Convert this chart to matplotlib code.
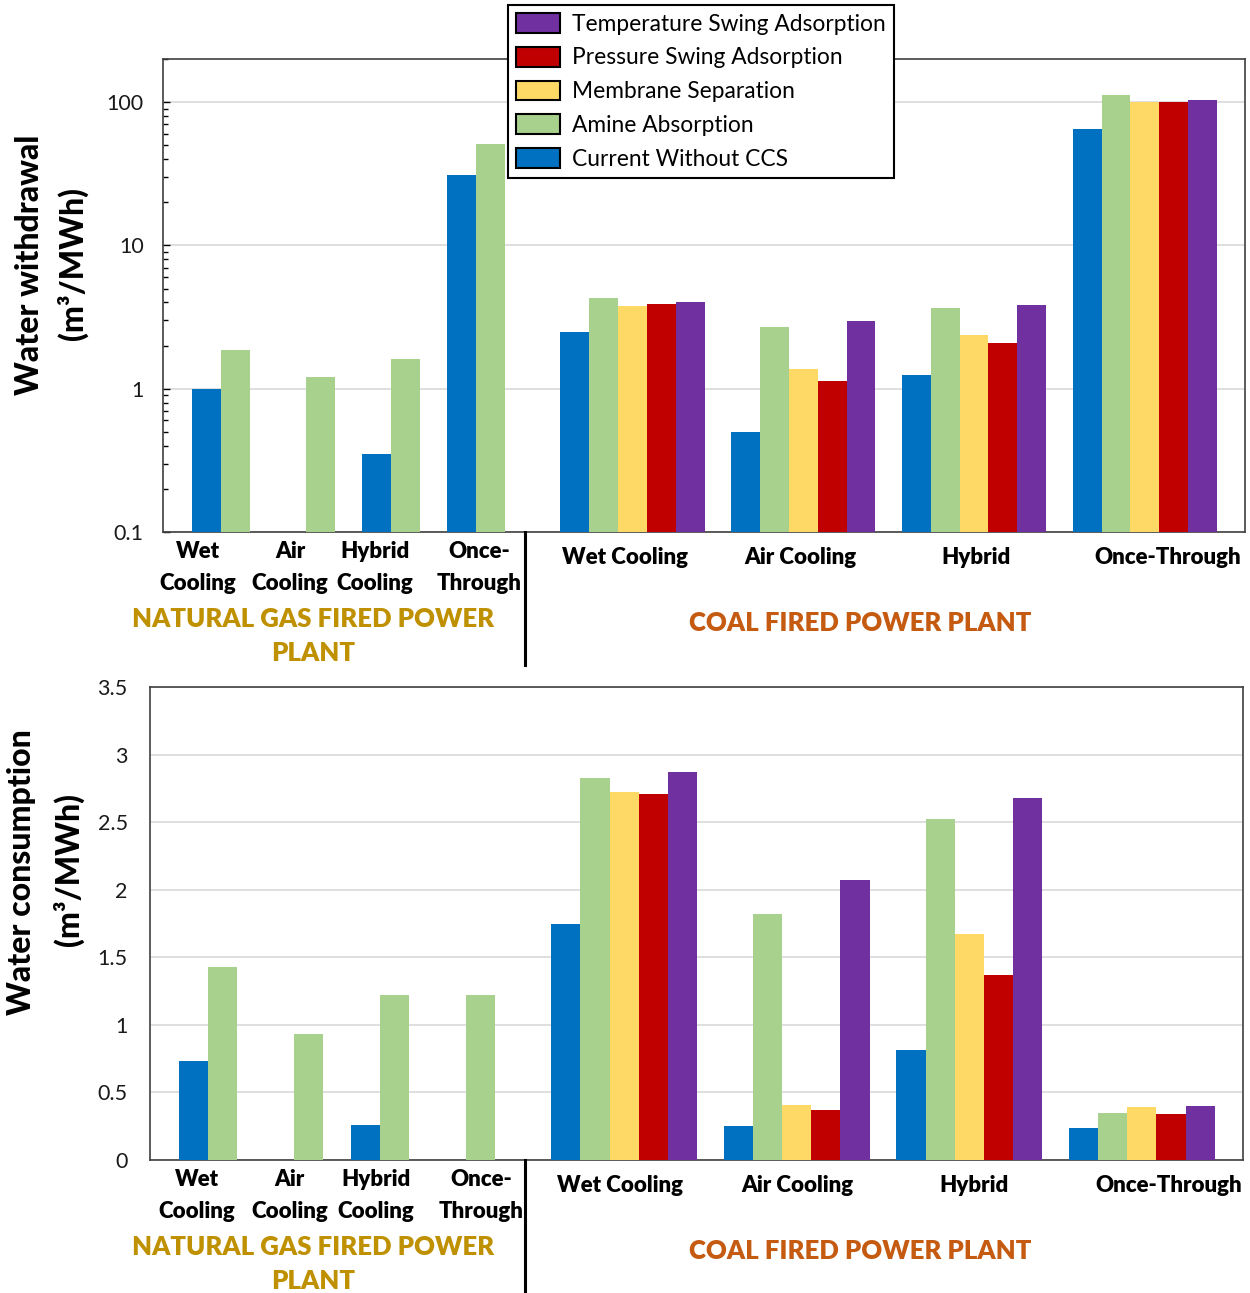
import numpy as np
import matplotlib
matplotlib.use('Agg')
import matplotlib.pyplot as plt
from matplotlib.patches import Patch
from matplotlib.lines import Line2D
from matplotlib.ticker import LogLocator, FixedLocator, NullFormatter, FixedFormatter
from matplotlib.transforms import blended_transform_factory

plt.rcParams['font.family'] = ['Lato', 'DejaVu Sans']

series = ['Current Without CCS', 'Amine Absorption', 'Membrane Separation',
          'Pressure Swing Adsorption', 'Temperature Swing Adsorption']
colors = ['#0070C0', '#A9D18E', '#FFD966', '#C00000', '#7030A0']

ng_labels = ['Wet\nCooling', 'Air\nCooling', 'Hybrid\nCooling', 'Once-\nThrough']
coal_labels = ['Wet Cooling', 'Air Cooling', 'Hybrid', 'Once-Through']

# water withdrawal (m3/MWh), log axis
ng_wd_current = [1.0, np.nan, 0.35, 31]
ng_wd_amine = [1.87, 1.21, 1.61, 51]
coal_wd_current = [2.48, 0.50, 1.25, 65]
coal_wd_amine = [4.29, 2.70, 3.65, 113]
coal_wd_membrane = [3.79, 1.38, 2.38, 100]
coal_wd_psa = [3.89, 1.13, 2.08, 100]
coal_wd_tsa = [4.06, 2.98, 3.81, 104]

# water consumption (m3/MWh)
ng_wc_current = [0.73, np.nan, 0.26, np.nan]
ng_wc_amine = [1.43, 0.93, 1.22, 1.22]
coal_wc_current = [1.75, 0.25, 0.815, 0.24]
coal_wc_amine = [2.83, 1.82, 2.52, 0.35]
coal_wc_membrane = [2.72, 0.41, 1.67, 0.39]
coal_wc_psa = [2.71, 0.37, 1.37, 0.34]
coal_wc_tsa = [2.87, 2.07, 2.68, 0.40]

# layout (bar width = 1 unit)
ng_start, ng_step = 2.0, 2.95
coal_start, coal_step = 16.27, 5.92
ng_label_nudge = [-0.8, -0.55, -0.55, 0.1]
coal_label_nudge = [-0.25, -0.1, 0.05, 0.8]

W, H = 1250, 1293
fig = plt.figure(figsize=(W / 100, H / 100), dpi=100)


def px_axes(left, top, right, bottom):
    return fig.add_axes([left / W, 1 - bottom / H, (right - left) / W, (bottom - top) / H])


def draw_panel(ax, ng_vals, coal_vals, ng_shift=0.0, coal_shift=0.0):
    ng_x = ng_start + ng_step * np.arange(4)
    coal_x = coal_start + coal_step * np.arange(4)
    for k, vals in enumerate(ng_vals):
        ax.bar(ng_x + (k - 0.5), vals, width=1, color=colors[k], edgecolor='none', zorder=3)
    for k, vals in enumerate(coal_vals):
        ax.bar(coal_x + (k - 2), vals, width=1, color=colors[k], edgecolor='none', zorder=3)
    ax.set_xlim(0, 37.5)
    ax.set_xticks([])
    ax.grid(axis='y', color='#d9d9d9', lw=1.2, zorder=0)
    ax.set_axisbelow(True)
    for s in ax.spines.values():
        s.set_color('#404040')
        s.set_linewidth(1.2)
    ax.tick_params(axis='y', labelsize=15.5, labelcolor='#1a1a1a')

    trans = blended_transform_factory(ax.transData, ax.transAxes)
    for i, lab in enumerate(ng_labels):
        top, bot = lab.split('\n')
        x = ng_x[i] + ng_label_nudge[i] + ng_shift
        ax.annotate(top, (x, 0), xycoords=trans, xytext=(0, -20 * 0.72),
                    textcoords='offset points', ha='center', va='center',
                    fontsize=16, fontweight='heavy', annotation_clip=False)
        ax.annotate(bot, (x, 0), xycoords=trans, xytext=(0, -51 * 0.72),
                    textcoords='offset points', ha='center', va='center',
                    fontsize=16, fontweight='heavy', annotation_clip=False)
    for i, lab in enumerate(coal_labels):
        x = coal_x[i] + coal_label_nudge[i] + coal_shift
        ax.annotate(lab, (x, 0), xycoords=trans, xytext=(0, -25 * 0.72),
                    textcoords='offset points', ha='center', va='center',
                    fontsize=16, fontweight='heavy', annotation_clip=False)


def section_labels(y_axes_bottom):
    kw = dict(ha='center', va='center', fontsize=18.5, fontweight='heavy')
    fig.text(313 / W, 1 - (y_axes_bottom + 87) / H, 'NATURAL GAS FIRED POWER',
             color='#BF9000', **kw)
    fig.text(313 / W, 1 - (y_axes_bottom + 121) / H, 'PLANT', color='#BF9000', **kw)
    fig.text(860 / W, 1 - (y_axes_bottom + 91) / H, 'COAL FIRED POWER PLANT',
             color='#C55A11', **kw)
    fig.add_artist(Line2D([525 / W, 525 / W],
                          [1 - y_axes_bottom / H, 1 - (y_axes_bottom + 133) / H],
                          transform=fig.transFigure, color='black', lw=2.2))


ylab_kw = dict(rotation=90, ha='center', va='center', fontsize=23, fontweight='black')

# ---- top: withdrawal ----
ax1 = px_axes(163, 59, 1245, 532)
ax1.set_yscale('log')
draw_panel(ax1,
           [ng_wd_current, ng_wd_amine],
           [coal_wd_current, coal_wd_amine, coal_wd_membrane, coal_wd_psa, coal_wd_tsa])
ax1.set_ylim(0.1, 200)
ax1.yaxis.set_major_locator(FixedLocator([0.1, 1, 10, 100]))
ax1.yaxis.set_major_formatter(FixedFormatter(['0.1', '1', '10', '100']))
ax1.yaxis.set_minor_locator(LogLocator(base=10, subs=np.arange(2, 10)))
ax1.yaxis.set_minor_formatter(NullFormatter())
ax1.tick_params(axis='y', which='major', direction='in', length=5, width=1, pad=14)
ax1.tick_params(axis='y', which='minor', direction='in', length=3.5, width=1)
section_labels(532)

fig.text(30 / W, 1 - 265 / H, 'Water withdrawal', **ylab_kw)
fig.text(72 / W, 1 - 264 / H, '(m³/MWh)', **ylab_kw)

# ---- bottom: consumption ----
ax2 = px_axes(150, 687, 1243, 1160)
draw_panel(ax2,
           [ng_wc_current, ng_wc_amine],
           [coal_wc_current, coal_wc_amine, coal_wc_membrane, coal_wc_psa, coal_wc_tsa],
           ng_shift=0.4, coal_shift=0.12)
ax2.set_ylim(0, 3.5)
ax2.set_yticks(np.arange(0, 3.51, 0.5))
ax2.set_yticklabels(['0', '0.5', '1', '1.5', '2', '2.5', '3', '3.5'])
ax2.tick_params(axis='y', length=0, pad=16)
section_labels(1160)

fig.text(22 / W, 1 - 872 / H, 'Water consumption', **ylab_kw)
fig.text(68 / W, 1 - 870 / H, '(m³/MWh)', **ylab_kw)

# ---- legend ----
handles = [Patch(facecolor=colors[k], edgecolor='black', lw=1.5, label=series[k])
           for k in range(4, -1, -1)]
fig.legend(handles=handles, loc='upper left', bbox_to_anchor=(508 / W, 1 - 5 / H),
           bbox_transform=fig.transFigure, borderaxespad=0, fontsize=16.4,
           handlelength=1.95, handleheight=0.96, labelspacing=0.53, handletextpad=0.5,
           borderpad=0.35, frameon=True, fancybox=False, framealpha=1,
           edgecolor='black')
fig.legends[0].get_frame().set_linewidth(1.5)

fig.savefig('out.png', dpi=100)
